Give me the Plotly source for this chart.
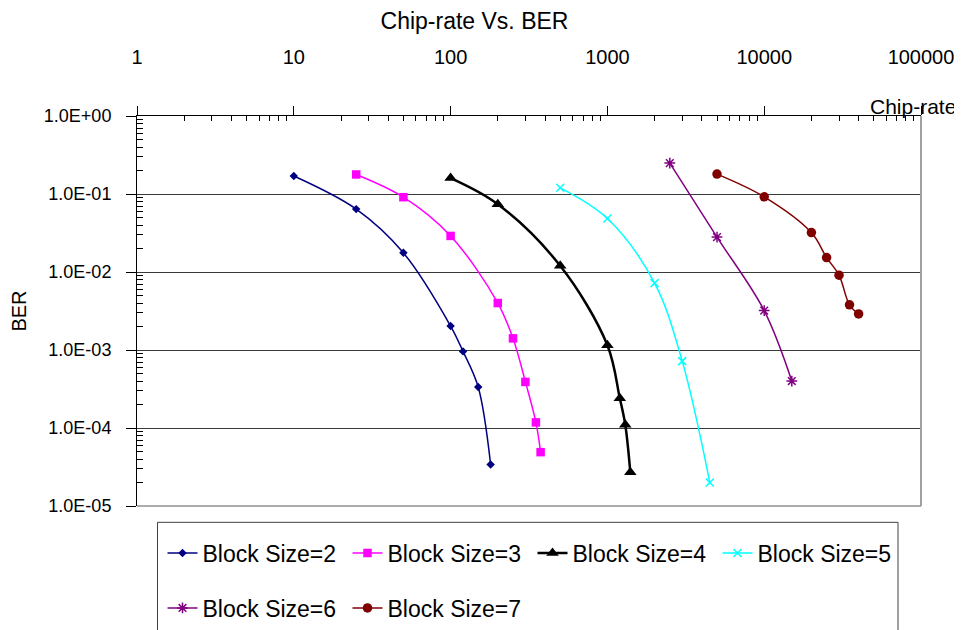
import plotly.graph_objects as go

# ---- data ----
bs2_x = [10, 25, 50, 100, 120, 150, 180]
bs2_y = [0.17, 0.064, 0.0176, 0.00203, 0.00096, 0.000335, 0.000034]

bs3_x = [25, 50, 100, 200, 250, 300, 350, 375]
bs3_y = [0.178, 0.091, 0.029, 0.0040, 0.00141, 0.00039, 0.000118, 0.000049]

bs4_x = [100, 200, 500, 1000, 1200, 1300, 1400]
bs4_y = [0.16, 0.074, 0.012, 0.00115, 0.00024, 0.00011, 0.000027]

bs5_x = [500, 1000, 2000, 3000, 4500]
bs5_y = [0.12, 0.0486, 0.0072, 0.00072, 0.00002]

bs6_x = [2500, 5000, 10000, 15000]
bs6_y = [0.249, 0.028, 0.0032, 0.0004]

bs7_x = [5000, 10000, 20000, 25000, 30000, 35000, 40000]
bs7_y = [0.18, 0.092, 0.032, 0.0153, 0.0091, 0.0038, 0.0029]

x_tickvals = [1, 10, 100, 1000, 10000, 100000]
x_ticktext = ["1", "10", "100", "1000", "10000", "100000"]
y_tickvals = [1e-5, 1e-4, 1e-3, 1e-2, 1e-1, 1]
y_ticktext = ["1.0E-05", "1.0E-04", "1.0E-03", "1.0E-02", "1.0E-01", "1.0E+00"]

FONT = "Liberation Sans, Arial, sans-serif"

series = [
    ("Block Size=2", bs2_x, bs2_y, "#000080", "diamond", 6.5, 1.5, "legend"),
    ("Block Size=3", bs3_x, bs3_y, "#FF00FF", "square", 8.5, 1.5, "legend"),
    ("Block Size=4", bs4_x, bs4_y, "#000000", "triangle-up", 11, 2.5, "legend"),
    ("Block Size=5", bs5_x, bs5_y, "#00FFFF", "x-thin-open", 8, 1.5, "legend"),
    ("Block Size=6", bs6_x, bs6_y, "#800080", "asterisk-open", 9, 1.5, "legend2"),
    ("Block Size=7", bs7_x, bs7_y, "#800000", "circle", 9.5, 1.5, "legend2"),
]

fig = go.Figure()
for name, xs, ys, col, sym, msz, lw, lg in series:
    marker = dict(symbol=sym, size=msz, color=col)
    if sym.endswith("-open"):
        marker["line"] = dict(color=col, width=1.5)
    fig.add_trace(go.Scatter(
        x=xs, y=ys, name=name, mode="lines+markers",
        line=dict(color=col, width=lw, shape="spline", smoothing=1.0),
        marker=marker, legend=lg,
    ))

minor_x = [k * 10 ** d for d in range(0, 5) for k in range(2, 10)]
minor_y = [k * 10.0 ** d for d in range(-5, 0) for k in range(2, 10)]

fig.update_xaxes(
    type="log", side="top", range=[0, 5], automargin=False,
    tickmode="array", tickvals=x_tickvals, ticktext=x_ticktext,
    ticks="outside", ticklen=9, tickcolor="black", tickwidth=1,
    ticklabelstandoff=34,
    tickfont=dict(family=FONT, size=20, color="black"),
    showline=True, linecolor="black", linewidth=1,
    showgrid=False, zeroline=False,
    minor=dict(tickmode="array", tickvals=minor_x, ticks="inside", ticklen=5,
               tickcolor="black", tickwidth=1, showgrid=False),
)
fig.update_yaxes(
    type="log", range=[-5, 0], automargin=False,
    tickmode="array", tickvals=y_tickvals, ticktext=y_ticktext,
    ticks="outside", ticklen=10, tickcolor="black", tickwidth=1,
    ticklabelstandoff=11,
    tickfont=dict(family=FONT, size=18, color="black"),
    showline=True, linecolor="black", linewidth=1,
    showgrid=True, gridcolor="#3a3a3a", gridwidth=1, zeroline=False,
    minor=dict(tickmode="array", tickvals=minor_y, ticks="inside", ticklen=6,
               tickcolor="black", tickwidth=1, showgrid=False),
    title=dict(text="BER", font=dict(family=FONT, size=20, color="black"), standoff=14),
)

# the page body adds an 8px margin, so the figure is laid out 8px up/left
OFF = 8
W, H = 962 - OFF, 630 - OFF
L = 137 - OFF
T = 116 - OFF
R = W - (921.5 - OFF)
B = H - (505.7 - OFF)
pw, ph = W - L - R, H - T - B
def px2paper(px, py):
    return (px - OFF - L) / pw, (H - B - (py - OFF)) / ph

# right / bottom frame lines of the plot area (grey)
fig.add_shape(type="line", xref="paper", yref="paper", x0=1, x1=1, y0=0, y1=1,
              line=dict(color="#a0a0a0", width=2))
fig.add_shape(type="line", xref="paper", yref="paper", x0=0, x1=1, y0=0, y1=0,
              line=dict(color="#909090", width=1.5))
# legend frame
lx0, ly0 = px2paper(157.5, 522)
lx1, ly1 = px2paper(898.5, 640)
fig.add_shape(type="rect", xref="paper", yref="paper", x0=lx0, x1=lx1, y0=ly1, y1=ly0,
              line=dict(color="#404040", width=1), fillcolor="rgba(0,0,0,0)")

fig.add_annotation(text="Chip-rate", xref="paper", yref="paper",
                   x=px2paper(959, 0)[0], y=px2paper(0, 107)[1],
                   xanchor="right", yanchor="middle", showarrow=False,
                   font=dict(family=FONT, size=21, color="black"))

legend_common = dict(
    orientation="h", xref="container", yref="container",
    xanchor="left", yanchor="middle",
    bgcolor="rgba(0,0,0,0)", borderwidth=0,
    entrywidthmode="pixels", entrywidth=140,
    font=dict(family=FONT, size=23, color="black"),
    itemclick=False,
)
fig.update_layout(
    width=W, height=H,
    margin=dict(l=L, r=R, t=T, b=B, autoexpand=False),
    paper_bgcolor="white", plot_bgcolor="white",
    title=dict(text="Chip-rate Vs. BER", xref="container", yref="container",
               x=(474.5 - OFF) / W, y=1 - (20.5 - OFF) / H,
               xanchor="center", yanchor="middle",
               font=dict(family=FONT, size=23, color="black")),
    legend=dict(x=(162.5 - OFF) / W, y=1 - (553 - OFF) / H, **legend_common),
    legend2=dict(x=(162.5 - OFF) / W, y=1 - (608 - OFF) / H, **legend_common),
    showlegend=True,
)

fig.write_html("out.html")
